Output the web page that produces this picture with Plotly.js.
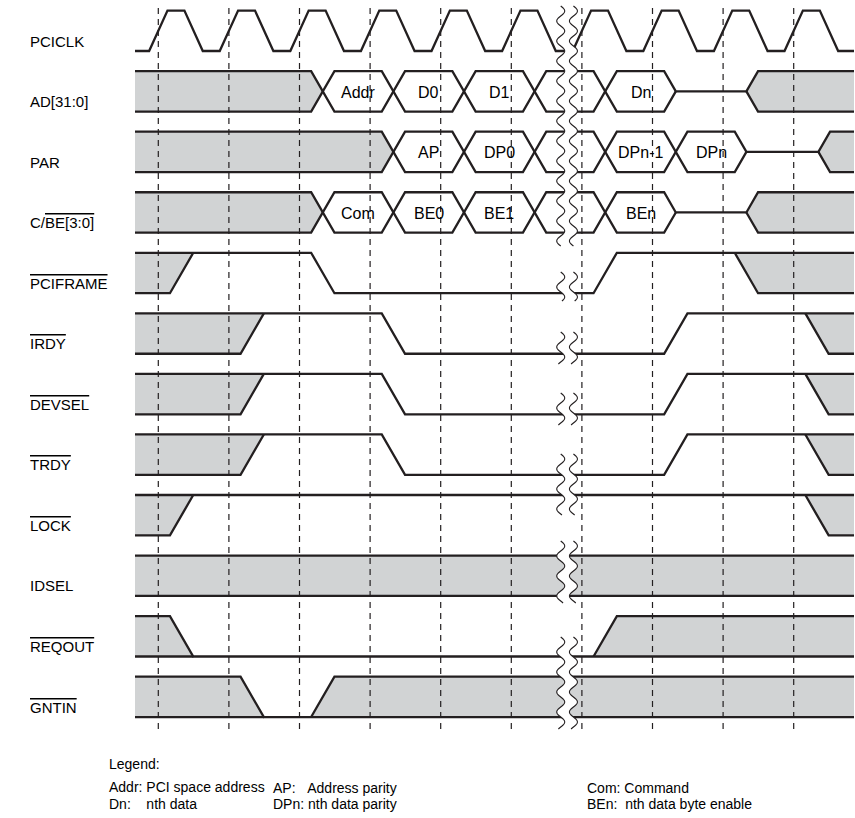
<!DOCTYPE html>
<html><head><meta charset="utf-8">
<script src="https://cdn.plot.ly/plotly-3.0.1.min.js"></script>
<style>html,body{margin:0;padding:0;background:#fff;}</style>
</head><body><div id="chart" style="width:855px;height:818px;"></div>
<script>
// ---------- data ----------
const signalLabels = ['PCICLK','AD[31:0]','PAR','C/<span style="text-decoration:overline">BE[3:0]</span>',
  '<span style="text-decoration:overline">PCIFRAME</span>','<span style="text-decoration:overline">IRDY</span>',
  '<span style="text-decoration:overline">DEVSEL</span>','<span style="text-decoration:overline">TRDY</span>',
  '<span style="text-decoration:overline">LOCK</span>','IDSEL',
  '<span style="text-decoration:overline">REQOUT</span>','<span style="text-decoration:overline">GNTIN</span>'];
// clock edges (in clock cycles; dashed lines at integer cycles)
const clockRise = [0,1,2,3,4,5,6,7,8,9];
const clockFall = [0.5,1.5,2.5,3.5,4.5,5.5,6.5,7.5,8.5,9.5];
const cycleMarks = [0,1,2,3,4,5,6,7,8,9];
// states: 'X' undefined (grey), 'Z' tri-state, '0','1' levels, other strings = valid data labels
const adStates = ['X','Addr','D0','D1','','Dn','Z','X'];
const adTimes  = [2.33,3.33,4.33,5.33,6.33,7.33,8.33];
const parStates = ['X','AP','DP0','','DPn-1','DPn','Z','X'];
const parTimes  = [3.33,4.33,5.33,6.33,7.33,8.33,9.35];
const cbeStates = ['X','Com','BE0','BE1','','BEn','Z','X'];
const cbeTimes  = [2.33,3.33,4.33,5.33,6.33,7.33,8.33];
const frameStates = ['X','1','0','1','X'];
const frameTimes  = [0.33,2.33,6.33,8.33];
const irdyStates = ['X','1','0','1','X'];
const irdyTimes  = [1.33,3.33,7.33,9.33];
const devselStates = ['X','1','0','1','X'];
const devselTimes  = [1.33,3.33,7.33,9.33];
const trdyStates = ['X','1','0','1','X'];
const trdyTimes  = [1.33,3.33,7.33,9.33];
const lockStates = ['X','1','X'];
const lockTimes  = [0.33,9.33];
const idselStates = ['X'];
const idselTimes  = [];
const reqStates = ['X','0','X'];
const reqTimes  = [0.33,6.33];
const gntStates = ['X','0','X'];
const gntTimes  = [1.33,2.33];
const legendTitle = 'Legend:';
const legendLines = ['Addr: PCI space address','Dn:\u00a0\u00a0\u00a0\u00a0nth data',
  'AP:\u00a0\u00a0\u00a0Address parity','DPn: nth data parity',
  'Com: Command','BEn:\u00a0\u00a0nth data byte enable'];

// ---------- layout constants ----------
const PX0 = 158.3, PXC = 70.6;           // pixel of cycle 0, pixels per cycle
const X0 = (135-PX0)/PXC, X1 = (854-PX0)/PXC;
const H = 0.165, HC = 0.13;
const ROW0 = 10.6, PITCH = 60.55, RH = 40.4;
const yTop = i => ROW0 + PITCH*i, yBot = i => yTop(i)+RH, yMid = i => yTop(i)+RH/2;
const BRK_L = 5.70, BRK_R = 5.88;
const LINE = '#231f20', GREY = '#d1d3d4';
const FONT = 'Liberation Sans, Arial, Helvetica, sans-serif';

const isMulti = s => !(s==='0'||s==='1'||s==='Z');
const traces = [], lineTraces = [], annotations = [], shapes = [];

function joinPolys(polys){
  const eq=(p,q)=>Math.abs(p[0]-q[0])<1e-9&&Math.abs(p[1]-q[1])<1e-9;
  let changed=true;
  while(changed){
    changed=false;
    outer: for(let i=0;i<polys.length;i++){
      for(let j=0;j<polys.length;j++){
        if(i===j) continue;
        if(eq(polys[i][polys[i].length-1], polys[j][0])){
          polys[i]=polys[i].concat(polys[j].slice(1)); polys.splice(j,1); changed=true; break outer;
        }
      }
    }
  }
  return polys;
}

function buildRow(i, states, times){
  const T=yTop(i), B=yBot(i), M=yMid(i);
  const polys=[];
  const n=states.length;
  for(let k=0;k<n;k++){
    const s=states[k];
    const a = k===0?X0:times[k-1]+H;
    const b = k===n-1?X1:times[k]-H;
    const rails = s==='1'?[T]:s==='0'?[B]:s==='Z'?[M]:[T,B];
    rails.forEach(y=>polys.push([[a,y],[b,y]]));
    if(s==='X'){
      let left,right;
      if(k===0) left=[[X0,T],[X0,B]];
      else { const A=states[k-1], t=times[k-1];
        if(A==='1') left=[[t-H,T],[t+H,B]];
        else if(A==='0') left=[[t+H,T],[t-H,B]];
        else left=[[t+H,T],[t,M],[t+H,B]]; }
      if(k===n-1) right=[[X1,T],[X1,B]];
      else { const N=states[k+1], t=times[k];
        if(N==='1') right=[[t+H,T],[t-H,B]];
        else if(N==='0') right=[[t-H,T],[t+H,B]];
        else right=[[t-H,T],[t,M],[t-H,B]]; }
      const poly=[...right, ...left.slice().reverse()]; poly.push(poly[0]);
      traces.push({type:'scatter',mode:'lines',x:poly.map(p=>p[0]),y:poly.map(p=>p[1]),
        fill:'toself',fillcolor:GREY,line:{width:0},hoverinfo:'skip'});
    } else if(isMulti(s) && s!==''){
      annotations.push({xref:'x',yref:'y',x:(times[k-1]+times[k])/2,y:M+1,text:s,showarrow:false,
        font:{family:FONT,size:16,color:'#000'},xanchor:'center',yanchor:'middle'});
    }
  }
  for(let k=0;k<times.length;k++){
    const A=states[k], N=states[k+1], t=times[k];
    const mA=isMulti(A), mB=isMulti(N);
    if(mA&&mB){ polys.push([[t-H,T],[t+H,B]]); polys.push([[t-H,B],[t+H,T]]); }
    else if(mA&&N==='Z'){ polys.push([[t-H,T],[t,M],[t+H,M]]); polys.push([[t-H,B],[t,M]]); }
    else if(A==='Z'&&mB){ polys.push([[t-H,M],[t,M],[t+H,T]]); polys.push([[t,M],[t+H,B]]); }
    else if(mA&&N==='1'){ polys.push([[t-H,T],[t+H,T]]); polys.push([[t-H,B],[t+H,T]]); }
    else if(mA&&N==='0'){ polys.push([[t-H,B],[t+H,B]]); polys.push([[t-H,T],[t+H,B]]); }
    else if(A==='1'&&mB){ polys.push([[t-H,T],[t+H,T]]); polys.push([[t-H,T],[t+H,B]]); }
    else if(A==='0'&&mB){ polys.push([[t-H,B],[t+H,B]]); polys.push([[t-H,B],[t+H,T]]); }
    else if(A==='1'&&N==='0'){ polys.push([[t-H,T],[t+H,B]]); }
    else if(A==='0'&&N==='1'){ polys.push([[t-H,B],[t+H,T]]); }
  }
  const lx=[], ly=[];
  joinPolys(polys).forEach(p=>{p.forEach(q=>{lx.push(q[0]);ly.push(q[1]);}); lx.push(null); ly.push(null);});
  lineTraces.push({type:'scatter',mode:'lines',x:lx,y:ly,line:{color:LINE,width:2.3},hoverinfo:'skip',connectgaps:false});
}

// clock
(function(){
  const T=yTop(0), B=yBot(0);
  const ev=[]; clockRise.forEach(t=>ev.push([t,1])); clockFall.forEach(t=>ev.push([t,0]));
  ev.sort((a,b)=>a[0]-b[0]);
  const xs=[X0], ys=[B]; let lvl=B;
  ev.forEach(([t,up])=>{
    if(up){ xs.push(t-HC,t+HC); ys.push(B,T); lvl=T; }
    else { xs.push(t-HC,t+HC); ys.push(T,B); lvl=B; }
  });
  xs.push(X1); ys.push(lvl);
  lineTraces.push({type:'scatter',mode:'lines',x:xs,y:ys,line:{color:LINE,width:2.3},hoverinfo:'skip'});
})();

const rows = [[1,adStates,adTimes],[2,parStates,parTimes],[3,cbeStates,cbeTimes],[4,frameStates,frameTimes],
  [5,irdyStates,irdyTimes],[6,devselStates,devselTimes],[7,trdyStates,trdyTimes],[8,lockStates,lockTimes],
  [9,idselStates,idselTimes],[10,reqStates,reqTimes],[11,gntStates,gntTimes]];
rows.forEach(r=>buildRow(r[0],r[1],r[2]));

// signal labels
signalLabels.forEach((t,i)=>{
  annotations.push({xref:'paper',yref:'y',x:28/855,y:yBot(i)-10,text:t,showarrow:false,xanchor:'left',yanchor:'middle',
    font:{family:FONT,size:15,color:'#000'}});
});

// dashed cycle lines
cycleMarks.forEach(t=>shapes.push({type:'line',xref:'x',yref:'y',x0:t,x1:t,y0:8,y1:729,layer:'above',
  line:{color:LINE,width:1.2,dash:'6px,5px'}}));

// break squiggles
const AMP = 4/PXC, PER = 20;
const brkRanges = [[6,246],[272,301],[332,364],[393,425],[454,515],[541,603],[637,729]];
brkRanges.forEach(([y0,y1])=>{
  const curve = (xc)=>{const p=[]; for(let y=y0;y<=y1;y+=1){p.push([xc+AMP*Math.sin(2*Math.PI*(y-y0)/PER),y]);} return p;};
  const L=curve(BRK_L), R=curve(BRK_R);
  const poly=[...L, ...R.slice().reverse()];
  shapes.push({type:'path',xref:'x',yref:'y',layer:'above',fillcolor:'#fff',line:{width:0},
    path:'M'+poly.map(p=>p[0]+','+p[1]).join('L')+'Z'});
  [L,R].forEach(c=>shapes.push({type:'path',xref:'x',yref:'y',layer:'above',line:{color:LINE,width:1.1},
    path:'M'+c.map(p=>p[0]+','+p[1]).join('L')}));
});

// legend text
const legFont = {family:FONT,size:14,color:'#000'};
annotations.push({xref:'paper',yref:'y',x:107/855,y:764,text:legendTitle,showarrow:false,xanchor:'left',yanchor:'middle',font:legFont});
const legX = [107,107,271,271,585,585];
const legY = [787,804,788,804,788,804];
legendLines.forEach((k,i)=>{
  annotations.push({xref:'paper',yref:'y',x:legX[i]/855,y:legY[i],text:k,showarrow:false,xanchor:'left',yanchor:'middle',font:legFont});
});

Plotly.newPlot('chart',[...traces,...lineTraces],{
  width:855,height:818,margin:{l:0,r:0,t:0,b:0},showlegend:false,
  paper_bgcolor:'#fff',plot_bgcolor:'#fff',
  xaxis:{range:[(0-PX0)/PXC,(855-PX0)/PXC],visible:false,fixedrange:true},
  yaxis:{range:[818,0],visible:false,fixedrange:true},
  annotations:annotations,shapes:shapes
},{staticPlot:true});
</script></body></html>
